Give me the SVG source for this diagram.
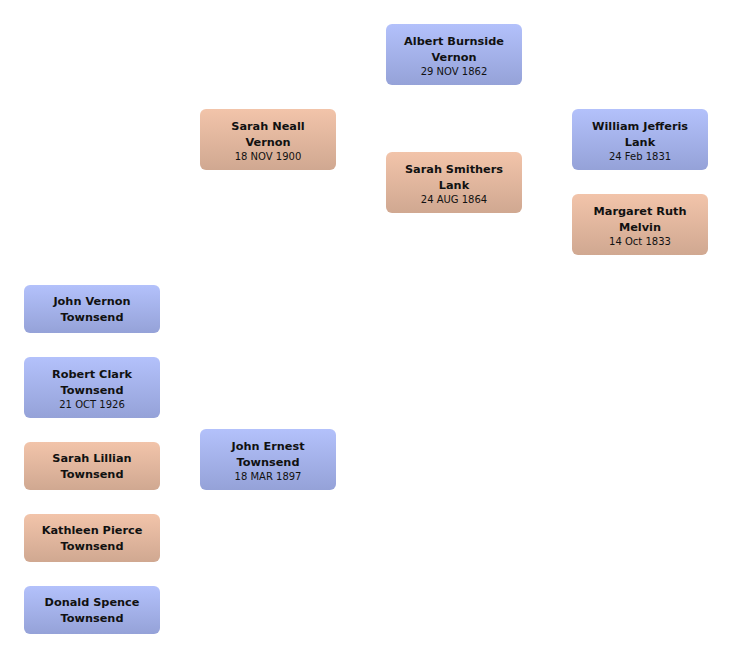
<svg xmlns="http://www.w3.org/2000/svg" width="732" height="658" viewBox="0 0 732 658">
<defs>
<linearGradient id="gm" x1="0" y1="0" x2="0" y2="1"><stop offset="0" stop-color="#b3c1fb"/><stop offset="1" stop-color="#95a2d8"/></linearGradient>
<linearGradient id="gf" x1="0" y1="0" x2="0" y2="1"><stop offset="0" stop-color="#f2c4aa"/><stop offset="1" stop-color="#d0a891"/></linearGradient>
<style>
.m{fill:url(#gm)}
.f{fill:url(#gf)}
.n{font-family:"DejaVu Sans",Verdana,sans-serif;font-weight:bold;font-size:11.3px;fill:#111;text-anchor:middle}
.d{font-family:"DejaVu Sans",Verdana,sans-serif;font-size:10px;fill:#111;text-anchor:middle}
</style>
</defs>
<rect width="732" height="658" fill="#fff"/>
<g id="connectors"></g>
<g id="albert"><rect class="m" x="386" y="24" width="136" height="61" rx="6"/><text class="n" x="454" y="44.5">Albert Burnside</text><text class="n" x="454" y="60.5">Vernon</text><text class="d" x="454" y="74.5">29 NOV 1862</text></g>
<g id="sarah-neall"><rect class="f" x="200" y="109" width="136" height="61" rx="6"/><text class="n" x="268" y="129.5">Sarah Neall</text><text class="n" x="268" y="145.5">Vernon</text><text class="d" x="268" y="159.5">18 NOV 1900</text></g>
<g id="sarah-smithers"><rect class="f" x="386" y="152" width="136" height="61" rx="6"/><text class="n" x="454" y="172.5">Sarah Smithers</text><text class="n" x="454" y="188.5">Lank</text><text class="d" x="454" y="202.5">24 AUG 1864</text></g>
<g id="william"><rect class="m" x="572" y="109" width="136" height="61" rx="6"/><text class="n" x="640" y="129.5">William Jefferis</text><text class="n" x="640" y="145.5">Lank</text><text class="d" x="640" y="159.5">24 Feb 1831</text></g>
<g id="margaret"><rect class="f" x="572" y="194" width="136" height="61" rx="6"/><text class="n" x="640" y="214.5">Margaret Ruth</text><text class="n" x="640" y="230.5">Melvin</text><text class="d" x="640" y="244.5">14 Oct 1833</text></g>
<g id="john-vernon"><rect class="m" x="24" y="285" width="136" height="48" rx="6"/><text class="n" x="92" y="305">John Vernon</text><text class="n" x="92" y="321">Townsend</text></g>
<g id="robert"><rect class="m" x="24" y="357" width="136" height="61" rx="6"/><text class="n" x="92" y="377.5">Robert Clark</text><text class="n" x="92" y="393.5">Townsend</text><text class="d" x="92" y="407.5">21 OCT 1926</text></g>
<g id="sarah-lillian"><rect class="f" x="24" y="442" width="136" height="48" rx="6"/><text class="n" x="92" y="462">Sarah Lillian</text><text class="n" x="92" y="478">Townsend</text></g>
<g id="kathleen"><rect class="f" x="24" y="514" width="136" height="48" rx="6"/><text class="n" x="92" y="534">Kathleen Pierce</text><text class="n" x="92" y="550">Townsend</text></g>
<g id="donald"><rect class="m" x="24" y="586" width="136" height="48" rx="6"/><text class="n" x="92" y="606">Donald Spence</text><text class="n" x="92" y="622">Townsend</text></g>
<g id="john-ernest"><rect class="m" x="200" y="429" width="136" height="61" rx="6"/><text class="n" x="268" y="449.5">John Ernest</text><text class="n" x="268" y="465.5">Townsend</text><text class="d" x="268" y="479.5">18 MAR 1897</text></g>
</svg>
